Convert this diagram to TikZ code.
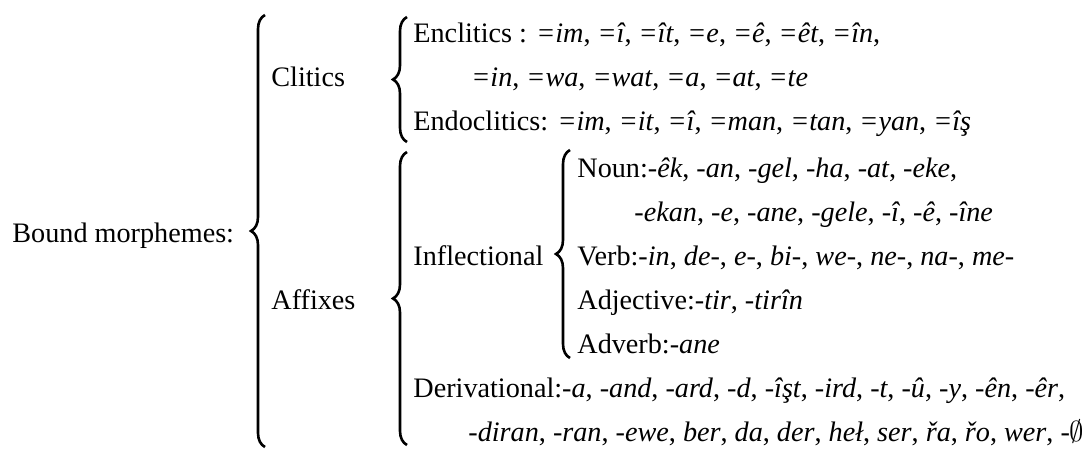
\documentclass[tikz,border=0pt]{standalone}
\usepackage{fontspec}
\setmainfont{Liberation Serif}
\usepackage{tikz}
\usetikzlibrary{decorations.pathreplacing}
\newcommand{\mf}[1]{\textit{#1}}

\begin{document}
\begin{tikzpicture}[x=0.5pt,y=-0.5pt,
    brc/.style={decorate,decoration={brace,amplitude=7pt},line width=1.3pt},
    lbl/.style={anchor=base west,inner sep=0pt,font=\fontsize{14.1pt}{17pt}\selectfont}]
      \useasboundingbox (0,0) rectangle (1092,449);
      % left hand side
      \node[lbl] (bound) at (12,242) {Bound morphemes:};
      \draw[brc] (265,447) -- (265,15);
      % clitics
      \node[lbl] (clit) at (271,87) {Clitics};
      \draw[brc] (407,142) -- (407,17);
      \node[lbl] (encl) at (413,43) {Enclitics : \mf{=im}, \mf{=î}, \mf{=ît}, \mf{=e}, \mf{=ê}, \mf{=êt}, \mf{=în},};
      \node[lbl] (encl2) at (471,87) {\mf{=in}, \mf{=wa}, \mf{=wat}, \mf{=a}, \mf{=at}, \mf{=te}};
      \node[lbl] (endo) at (413,131) {Endoclitics: \mf{=im}, \mf{=it}, \mf{=î}, \mf{=man}, \mf{=tan}, \mf{=yan}, \mf{=îş}};
      % affixes
      \node[lbl] (affx) at (271,309) {Affixes};
      \draw[brc] (407,445) -- (407,152);
      \node[lbl] (infl) at (413,265) {Inflectional};
      \draw[brc] (570,358) -- (570,150);
      \node[lbl] (noun) at (577,177) {Noun:\mf{-êk}, \mf{-an}, \mf{-gel}, \mf{-ha}, \mf{-at}, \mf{-eke},};
      \node[lbl] (noun2) at (634,221) {\mf{-ekan}, \mf{-e}, \mf{-ane}, \mf{-gele}, \mf{-î}, \mf{-ê}, \mf{-îne}};
      \node[lbl] (verb) at (577,265) {Verb:\mf{-in}, \mf{de-}, \mf{e-}, \mf{bi-}, \mf{we-}, \mf{ne-}, \mf{na-}, \mf{me-}};
      \node[lbl] (adj) at (577,309) {Adjective:\mf{-tir}, \mf{-tirîn}};
      \node[lbl] (adv) at (577,353) {Adverb:\mf{-ane}};
      \node[lbl] (deriv) at (413,397) {Derivational:\mf{-a}, \mf{-and}, \mf{-ard}, \mf{-d}, \mf{-îşt}, \mf{-ird}, \mf{-t}, \mf{-û}, \mf{-y}, \mf{-ên}, \mf{-êr},};
      \node[lbl] (deriv2) at (468,441) {\mf{-diran}, \mf{-ran}, \mf{-ewe}, \mf{ber}, \mf{da}, \mf{der}, \mf{heł}, \mf{ser}, \mf{řa}, \mf{řo}, \mf{wer}, \mf{-}$\emptyset$};
    \end{tikzpicture}
\end{document}
